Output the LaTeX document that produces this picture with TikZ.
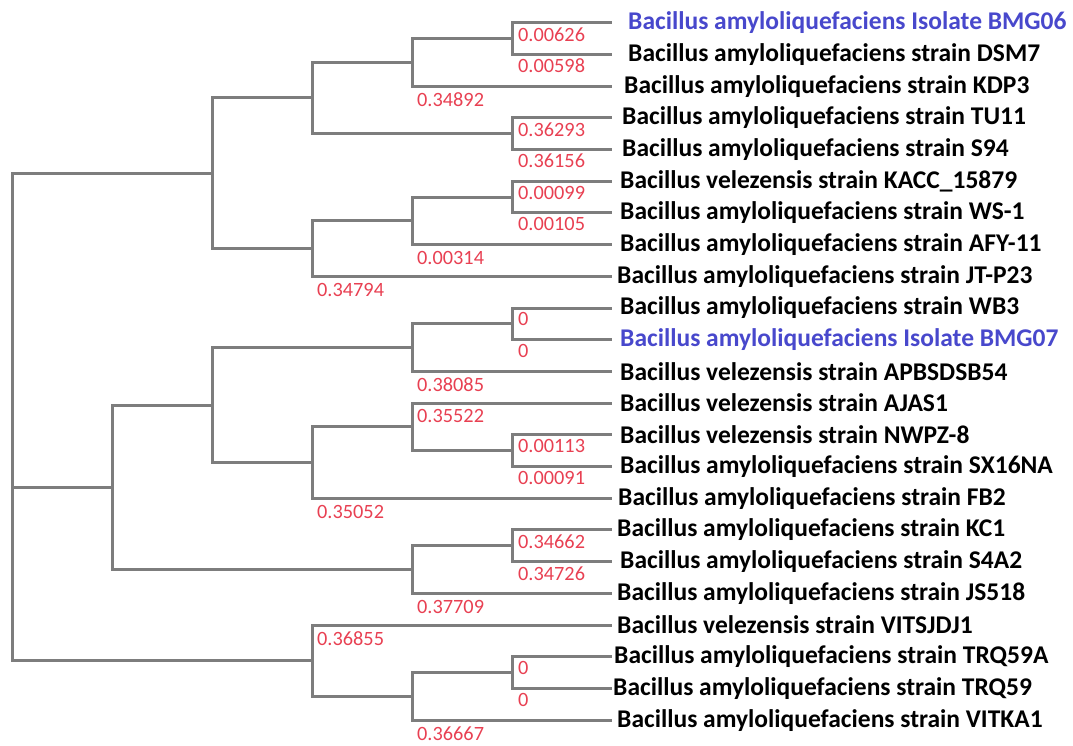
\documentclass[tikz,border=0pt]{standalone}
\usepackage{fontspec}
\setmainfont{Carlito}
\usepackage{tikz}
\usetikzlibrary{calc}
\definecolor{treegray}{RGB}{125,125,125}
\definecolor{lenred}{RGB}{232,64,82}
\definecolor{isoblue}{RGB}{72,72,204}
\tikzstyle{taxon} = [anchor=west, inner sep=0pt, inner xsep=8pt, font=\bfseries\fontsize{25.5}{29}\selectfont]
\tikzstyle{isolate} = [taxon, text=isoblue]
\tikzstyle{blen} = [anchor=north west, inner sep=0pt, text=lenred, font=\fontsize{20.3}{24}\selectfont]
\tikzstyle{branch} = [draw=treegray, line width=3pt]

\begin{document}
\begin{tikzpicture}[x=1pt,y=-1pt]
\useasboundingbox (0,0) rectangle (1073,746);
% taxa
\node[isolate,inner xsep=16pt] (l1) at (612,22.7) {Bacillus amyloliquefaciens Isolate BMG06};
\node[taxon,inner xsep=16pt] (l2) at (612,54.4) {Bacillus amyloliquefaciens strain DSM7};
\node[taxon,inner xsep=12pt] (l3) at (612,86.1) {Bacillus amyloliquefaciens strain KDP3};
\node[taxon,inner xsep=10pt] (l4) at (612,117.8) {Bacillus amyloliquefaciens strain TU11};
\node[taxon,inner xsep=10pt] (l5) at (612,149.5) {Bacillus amyloliquefaciens strain S94};
\node[taxon] (l6) at (612,181.2) {Bacillus velezensis strain KACC\_15879};
\node[taxon] (l7) at (612,212.9) {Bacillus amyloliquefaciens strain WS-1};
\node[taxon] (l8) at (612,244.6) {Bacillus amyloliquefaciens strain AFY-11};
\node[taxon,inner xsep=5pt] (l9) at (612,276.3) {Bacillus amyloliquefaciens strain JT-P23};
\node[taxon] (l10) at (612,308.0) {Bacillus amyloliquefaciens strain WB3};
\node[isolate] (l11) at (612,339.7) {Bacillus amyloliquefaciens Isolate BMG07};
\node[taxon] (l12) at (612,371.4) {Bacillus velezensis strain APBSDSB54};
\node[taxon] (l13) at (612,403.1) {Bacillus velezensis strain AJAS1};
\node[taxon] (l14) at (612,434.8) {Bacillus velezensis strain NWPZ-8};
\node[taxon] (l15) at (612,466.5) {Bacillus amyloliquefaciens strain SX16NA};
\node[taxon,inner xsep=6pt] (l16) at (612,498.2) {Bacillus amyloliquefaciens strain FB2};
\node[taxon,inner xsep=5pt] (l17) at (612,529.9) {Bacillus amyloliquefaciens strain KC1};
\node[taxon] (l18) at (612,561.6) {Bacillus amyloliquefaciens strain S4A2};
\node[taxon,inner xsep=5pt] (l19) at (612,593.3) {Bacillus amyloliquefaciens strain JS518};
\node[taxon,inner xsep=5pt] (l20) at (612,625.0) {Bacillus velezensis strain VITSJDJ1};
\node[taxon,inner xsep=2pt] (l21) at (612,656.7) {Bacillus amyloliquefaciens strain TRQ59A};
\node[taxon,inner xsep=1pt] (l22) at (612,688.4) {Bacillus amyloliquefaciens strain TRQ59};
\node[taxon,inner xsep=5pt] (l23) at (612,720.1) {Bacillus amyloliquefaciens strain VITKA1};

% internal nodes
\coordinate (a1) at (512,38.55);
\coordinate (a2) at (412,62.3);
\coordinate (a3) at (512,133.65);
\coordinate (a4) at (312,97.98);
\coordinate (a5) at (512,197.05);
\coordinate (a6) at (412,220.8);
\coordinate (a7) at (312,248.6);
\coordinate (a8) at (212,173.3);
\coordinate (b1) at (512,323.85);
\coordinate (b2) at (412,347.6);
\coordinate (b3) at (512,450.65);
\coordinate (b4) at (412,426.9);
\coordinate (b5) at (312,462.5);
\coordinate (b6) at (212,405.1);
\coordinate (b7) at (512,545.75);
\coordinate (b8) at (412,569.5);
\coordinate (b9) at (112,487.3);
\coordinate (c1) at (512,672.55);
\coordinate (c2) at (412,696.3);
\coordinate (c3) at (312,660.7);
\coordinate (root) at (12,487.3);

% branches
\draw[branch] (a1) |- (l1.west);
\draw[branch] (a1) |- (l2.west);
\draw[branch] (a2) |- (a1);
\draw[branch] (a2) |- (l3.west);
\draw[branch] (a3) |- (l4.west);
\draw[branch] (a3) |- (l5.west);
\draw[branch] (a4) |- (a2);
\draw[branch] (a4) |- (a3);
\draw[branch] (a5) |- (l6.west);
\draw[branch] (a5) |- (l7.west);
\draw[branch] (a6) |- (a5);
\draw[branch] (a6) |- (l8.west);
\draw[branch] (a7) |- (a6);
\draw[branch] (a7) |- (l9.west);
\draw[branch] (a8) |- (a4);
\draw[branch] (a8) |- (a7);
\draw[branch] (b1) |- (l10.west);
\draw[branch] (b1) |- (l11.west);
\draw[branch] (b2) |- (b1);
\draw[branch] (b2) |- (l12.west);
\draw[branch] (b3) |- (l14.west);
\draw[branch] (b3) |- (l15.west);
\draw[branch] (b4) |- (l13.west);
\draw[branch] (b4) |- (b3);
\draw[branch] (b5) |- (b4);
\draw[branch] (b5) |- (l16.west);
\draw[branch] (b6) |- (b2);
\draw[branch] (b6) |- (b5);
\draw[branch] (b7) |- (l17.west);
\draw[branch] (b7) |- (l18.west);
\draw[branch] (b8) |- (b7);
\draw[branch] (b8) |- (l19.west);
\draw[branch] (b9) |- (b6);
\draw[branch] (b9) |- (b8);
\draw[branch] (c1) |- (l21.west);
\draw[branch] (c1) |- (l22.west);
\draw[branch] (c2) |- (c1);
\draw[branch] (c2) |- (l23.west);
\draw[branch] (c3) |- (l20.west);
\draw[branch] (c3) |- (c2);
\draw[branch] (root) |- (a8);
\draw[branch] (root) -- (b9);
\draw[branch] (root) |- (c3);

% branch lengths
\node[blen] (e1) at (518,27.2) {0.00626};
\node[blen] (e2) at (518,58.9) {0.00598};
\node[blen] (e3) at (417,92.6) {0.34892};
\node[blen] (e4) at (518,122.3) {0.36293};
\node[blen] (e5) at (518,154.0) {0.36156};
\node[blen] (e6) at (518,185.7) {0.00099};
\node[blen] (e7) at (518,217.4) {0.00105};
\node[blen] (e8) at (417,251.1) {0.00314};
\node[blen] (e9) at (317,282.8) {0.34794};
\node[blen] (e10) at (518,312.5) {0};
\node[blen] (e11) at (518,344.2) {0};
\node[blen] (e12) at (417,377.9) {0.38085};
\node[blen] (e13) at (417,409.6) {0.35522};
\node[blen] (e14) at (518,439.3) {0.00113};
\node[blen] (e15) at (518,471.0) {0.00091};
\node[blen] (e16) at (317,504.7) {0.35052};
\node[blen] (e17) at (518,534.4) {0.34662};
\node[blen] (e18) at (518,566.1) {0.34726};
\node[blen] (e19) at (417,599.8) {0.37709};
\node[blen] (e20) at (317,631.5) {0.36855};
\node[blen] (e21) at (518,661.2) {0};
\node[blen] (e22) at (518,692.9) {0};
\node[blen] (e23) at (417,726.6) {0.36667};
\end{tikzpicture}
\end{document}
